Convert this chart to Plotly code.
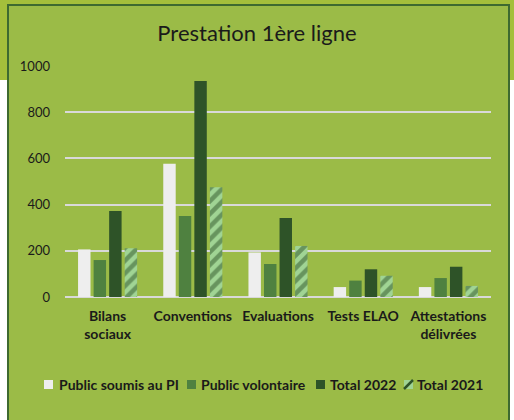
import plotly.graph_objects as go

# data
categories = ['Bilans<br>sociaux', 'Conventions', 'Evaluations', 'Tests ELAO', 'Attestations<br>délivrées']
public_pi = [206, 577, 193, 43, 43]
public_volontaire = [160, 351, 143, 71, 82]
total_2022 = [372, 935, 342, 120, 131]
total_2021 = [211, 475, 221, 92, 48]
series_names = ['Public soumis au PI', 'Public volontaire', 'Total 2022', 'Total 2021']

W, H = 514, 420
L, R, T, B = 65, 23, 66, 123
PW, PH = W - L - R, H - T - B

C_PI = '#EEEEEE'
C_VOL = '#4F8140'
C_2022 = '#2E5328'
C_2021 = '#A0D494'


def px_x(x):
    return (x - L) / PW


def px_y(y):
    return (H - B - y) / PH


fig = go.Figure()

fig.add_trace(go.Bar(x=categories, y=public_pi, name=series_names[0],
                     marker=dict(color=C_PI, line=dict(width=0))))
fig.add_trace(go.Bar(x=categories, y=public_volontaire, name=series_names[1],
                     marker=dict(color=C_VOL, line=dict(width=0))))
fig.add_trace(go.Bar(x=categories, y=total_2022, name=series_names[2],
                     marker=dict(color=C_2022, line=dict(width=0))))
fig.add_trace(go.Bar(x=categories, y=total_2021, name=series_names[3],
                     marker=dict(color=C_2021, line=dict(width=0),
                                 pattern=dict(shape='/', fgcolor=C_2022,
                                              bgcolor=C_2021, size=9, solidity=0.5))))

# background strip behind the chart box, then the chart box itself
shapes = [
    dict(type='rect', xref='paper', yref='paper', layer='below',
         x0=px_x(0), x1=px_x(W), y0=px_y(80), y1=px_y(0),
         fillcolor='#A4BF3B', line=dict(width=0)),
    dict(type='rect', xref='paper', yref='paper', layer='below',
         x0=px_x(8), x1=px_x(509), y0=px_y(H + 5), y1=px_y(5),
         fillcolor='#9BBB47', line=dict(color='#3E6A30', width=2)),
]

# legend drawn by hand so it fits on one row like the original
annotations = []
sym_x = [44, 187, 316, 404]
txt_x = [56.5, 199, 327.5, 415]
sym_colors = [C_PI, C_VOL, C_2022, C_2021]
ly = 384.5
for name, sx, tx, col in zip(series_names, sym_x, txt_x, sym_colors):
    shapes.append(dict(type='rect', xref='paper', yref='paper',
                       x0=px_x(sx), x1=px_x(sx + 9), y0=px_y(ly + 4.5), y1=px_y(ly - 4.5),
                       fillcolor=col, line=dict(width=0)))
    annotations.append(dict(text=name, xref='paper', yref='paper', x=px_x(tx), y=px_y(ly),
                            xanchor='left', yanchor='middle', showarrow=False,
                            font=dict(size=14, color='#1A1A1A', weight='bold')))
# hatch stroke on the 'Total 2021' swatch
shapes.append(dict(type='line', xref='paper', yref='paper',
                   x0=px_x(404), y0=px_y(ly + 4.5), x1=px_x(413), y1=px_y(ly - 4.5),
                   line=dict(color=C_2022, width=2.5)))

fig.update_layout(
    width=W, height=H,
    margin=dict(l=L, r=R, t=T, b=B, autoexpand=False),
    paper_bgcolor='white',
    plot_bgcolor='rgba(0,0,0,0)',
    shapes=shapes,
    annotations=annotations,
    showlegend=False,
    title=dict(text='Prestation 1ère ligne', x=0.5, xanchor='center',
               y=1 - 33 / H, yanchor='middle',
               font=dict(family='Lato, Open Sans, sans-serif', size=22, color='#1A1A1A')),
    barmode='group', bargap=0.27, bargroupgap=0.2,
    font=dict(family='Lato, Open Sans, sans-serif', size=12, color='#1A1A1A'),
    xaxis=dict(showgrid=False, showline=False, ticks='', automargin=False,
               ticklabelstandoff=9,
               tickfont=dict(size=14, color='#1A1A1A', weight='bold')),
    yaxis=dict(range=[0, 1000], dtick=200, showgrid=True, gridcolor='#D9D9D9',
               gridwidth=1.5, zeroline=True, zerolinecolor='#D9D9D9', zerolinewidth=1.5,
               showline=False, ticks='', ticklabelstandoff=14, automargin=False,
               tickfont=dict(size=13, color='#1A1A1A')),
)

# drop the default page margin so the figure sits at the window origin
fig.write_html("out.html", config={'displayModeBar': False},
               post_script="document.body.style.margin='0';")
